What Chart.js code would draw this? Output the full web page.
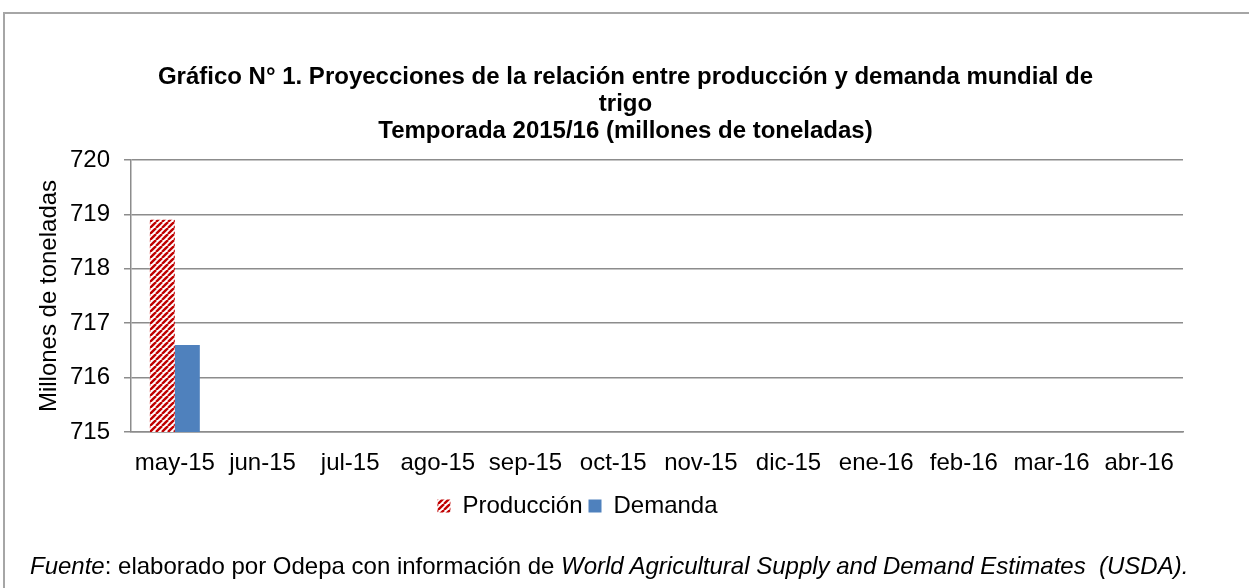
<!DOCTYPE html>
<html>
<head>
<meta charset="utf-8">
<script src="https://cdn.jsdelivr.net/npm/chart.js@4.4.1/dist/chart.umd.min.js"></script>
<style>
    html, body { margin: 0; padding: 0; background: #fff; }
    #wrap { position: relative; width: 1249px; height: 588px; overflow: hidden; font-family: "Liberation Sans", Arial, sans-serif; }
    #frame { position: absolute; left: 3px; top: 12px; width: 1260px; height: 600px; border-left: 2px solid #a6a6a6; border-top: 2px solid #a6a6a6; }
    #chart { position: absolute; left: 0; top: 0; }
    #fuente { position: absolute; left: 30px; top: 552px; font-size: 24px; color: #000; white-space: pre; }
</style>
</head>
<body>
<div id="wrap">
    <div id="frame"></div>
    <canvas id="chart" width="1249" height="588"></canvas>
    <div id="fuente"><i>Fuente</i>: elaborado por Odepa con información de <i>World Agricultural Supply and Demand Estimates  (USDA).</i></div>
</div>
<script>
'use strict';

const meses = ['may-15', 'jun-15', 'jul-15', 'ago-15', 'sep-15', 'oct-15', 'nov-15', 'dic-15', 'ene-16', 'feb-16', 'mar-16', 'abr-16'];
const produccion = [718.9, null, null, null, null, null, null, null, null, null, null, null];
const demanda = [716.6, null, null, null, null, null, null, null, null, null, null, null];
const titulo = ['Gráfico N° 1. Proyecciones de la relación entre producción y demanda mundial de', 'trigo', 'Temporada 2015/16 (millones de toneladas)'];

const fontFamily = '"Liberation Sans", Arial, sans-serif';

// red diagonal stripes like the Excel pattern fill
function stripes() {
    const c = document.createElement('canvas');
    c.width = 6;
    c.height = 6;
    const ctx = c.getContext('2d');
    ctx.fillStyle = '#ffffff';
    ctx.fillRect(0, 0, 6, 6);
    ctx.strokeStyle = '#c00000';
    ctx.lineWidth = 2.4;
    for (let k = -6; k <= 12; k += 6) {
        ctx.beginPath();
        ctx.moveTo(k, 6);
        ctx.lineTo(k + 6, 0);
        ctx.stroke();
    }
    return ctx.createPattern(c, 'repeat');
}

const patron = stripes();

// in the original the title is centred on the page and the legend sits left of centre
const nudge = {
    id: 'nudge',
    afterLayout(chart) {
        chart.legend.left -= 24;
        chart.legend.right -= 24;
        chart.titleBlock.left += 24;
        chart.titleBlock.right += 24;
    }
};

const data = {
    labels: meses,
    datasets: [{
        label: 'Producción',
        data: produccion,
        backgroundColor: patron,
        borderWidth: 0
    }, {
        label: 'Demanda',
        data: demanda,
        backgroundColor: '#4f81bd',
        borderWidth: 0
    }]
};

const config = {
    type: 'bar',
    data: data,
    plugins: [nudge],
    options: {
        responsive: false,
        animation: false,
        categoryPercentage: 0.57,
        barPercentage: 1,
        layout: {
            padding: { top: 64, left: 20, right: 66, bottom: 60 }
        },
        plugins: {
            title: {
                display: true,
                text: titulo,
                color: '#000',
                font: { family: fontFamily, size: 24, weight: 'bold', lineHeight: 1.125 },
                padding: { top: 0, bottom: 15 }
            },
            legend: {
                position: 'bottom',
                labels: {
                    color: '#000',
                    font: { family: fontFamily, size: 24 },
                    boxWidth: 13,
                    boxHeight: 13,
                    padding: 6
                }
            },
            tooltip: { enabled: false }
        },
        scales: {
            x: {
                grid: { display: false },
                border: { display: true, color: '#8c8c8c', width: 1.5 },
                ticks: {
                    color: '#000',
                    font: { family: fontFamily, size: 24 },
                    padding: 9,
                    maxRotation: 0,
                    autoSkip: false
                },
                afterFit: s => { s.height = 56; }
            },
            y: {
                min: 715,
                max: 720,
                ticks: {
                    stepSize: 1,
                    color: '#000',
                    font: { family: fontFamily, size: 24 },
                    padding: 14
                },
                grid: { color: '#8c8c8c', lineWidth: 1.5, tickLength: 7 },
                border: { display: true, color: '#8c8c8c', width: 1.5 },
                title: {
                    display: true,
                    text: 'Millones de toneladas',
                    color: '#000',
                    font: { family: fontFamily, size: 24 },
                    padding: { top: 15, bottom: 0 }
                },
                afterFit: s => { s.width = 111; }
            }
        }
    }
};

const myChart = new Chart(document.querySelector('#chart'), config);
</script>
</body>
</html>
